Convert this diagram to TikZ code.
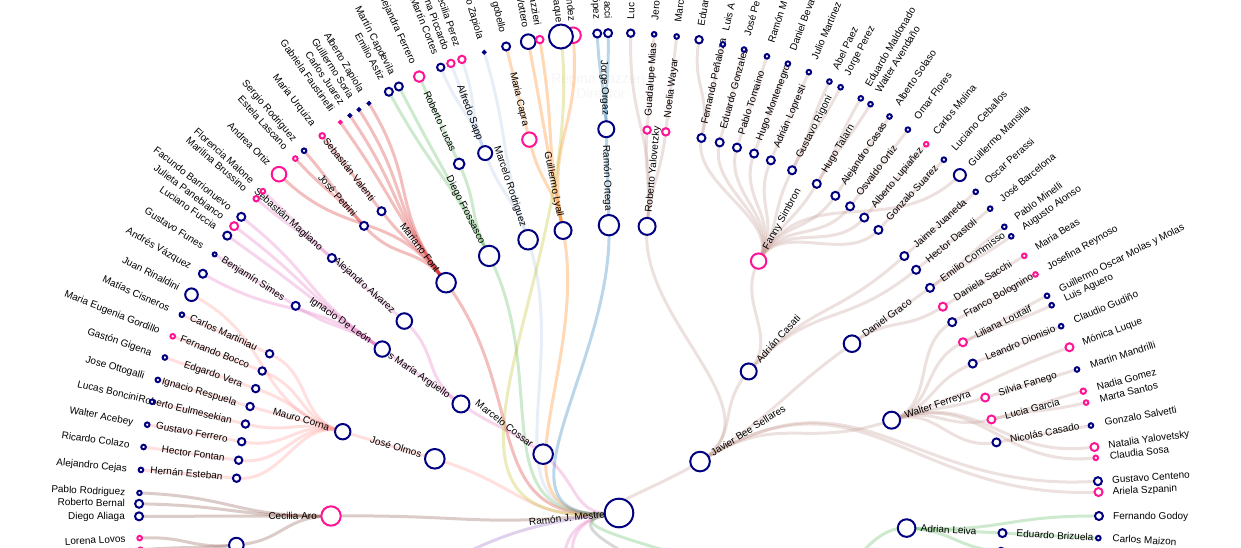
\documentclass[tikz,border=0pt]{standalone}
\usepackage{fontspec}
\setmainfont{Liberation Sans}
\usepackage{tikz}

\definecolor{navyring}{HTML}{000080}
\definecolor{pinkring}{HTML}{FF1493}
\definecolor{cRed}{HTML}{D62728}
\definecolor{cGreen}{HTML}{5CB85C}
\definecolor{cSky}{HTML}{AEC7E8}
\definecolor{cOrange}{HTML}{FF7F0E}
\definecolor{cBlue}{HTML}{1F77B4}
\definecolor{cOlive}{HTML}{BCBD22}
\definecolor{cPink}{HTML}{E377C2}
\definecolor{cSalmon}{HTML}{FF9896}
\definecolor{cBrown}{HTML}{8C564B}
\definecolor{cTaupe}{HTML}{C49C94}
\definecolor{cPurple}{HTML}{9467BD}
\definecolor{cGray}{HTML}{7F7F7F}

\tikzset{
    ringnode/.style={circle, fill=white, line width=2pt, inner sep=0pt},
    nv/.style={draw=navyring},
    pk/.style={draw=pinkring},
    sz/.style={minimum size=#1*2pt},
    link/.style={draw=#1, draw opacity=0.3, line width=3pt},
    who/.style={font=\fontsize{10}{12}\selectfont, inner sep=0pt, text height=8.2pt, text depth=2pt},
    card/.style={text=black!4, font=\fontsize{14}{16}\selectfont}
}

\pgfdeclarelayer{links}
\pgfdeclarelayer{dots}
\pgfsetlayers{links,main,dots}

\newcommand{\Link}[3]{%
    \pgfmathsetmacro\midrad{(\csname rad@#1\endcsname+\csname rad@#2\endcsname)/2}%
    \edef\fromang{\csname ang@#1\endcsname}%
    \edef\toang{\csname ang@#2\endcsname}%
    \begin{pgfonlayer}{links}
        \draw[link=#3] (#1.center) .. controls (\fromang:\midrad) and (\toang:\midrad) .. (#2.center);
    \end{pgfonlayer}}

\newcommand{\Root}[4]{%
    \expandafter\xdef\csname ang@#1\endcsname{#2}%
    \expandafter\xdef\csname rad@#1\endcsname{0}%
    \begin{pgfonlayer}{dots}
        \node[ringnode, #3] (#1) at (0,0) {};
    \end{pgfonlayer}
    \pgfmathsetmacro\labrot{#2-180}%
    \node[who, anchor=east, rotate=\labrot] (#1-lab) at (#2:14) {#4};}

\newcommand{\Person}[7]{%
    \expandafter\xdef\csname ang@#1\endcsname{#3}%
    \expandafter\xdef\csname rad@#1\endcsname{#4}%
    \begin{pgfonlayer}{dots}
        \node[ringnode, #5] (#1) at (#3:#4) {};
    \end{pgfonlayer}
    \Link{#2}{#1}{#6}%
    \pgfmathtruncatemacro\onleft{cos(#3)<0}%
    \pgfmathsetmacro\labrad{#4+14}%
    \ifnum\onleft=1
        \pgfmathsetmacro\labrot{#3-180}%
        \node[who, anchor=east, rotate=\labrot] (#1-lab) at (#3:\labrad) {#7};
    \else
        \node[who, anchor=west, rotate=#3] (#1-lab) at (#3:\labrad) {#7};
    \fi}

\newcommand{\Hidden}[5]{%
    \expandafter\xdef\csname ang@#1\endcsname{#3}%
    \expandafter\xdef\csname rad@#1\endcsname{#4}%
    \coordinate (#1) at (#3:#4);
    \Link{#2}{#1}{#5}}

\begin{document}
\begin{tikzpicture}[x=1pt, y=1pt]

    \useasboundingbox (-619,-35) rectangle (622,513);
    \clip (-619,-35) rectangle (622,513);

    \begin{pgfonlayer}{links}
        \node[card] (cardname) at (-21,433) {Regina Lazzeri};
        \node[card] (cardrole) at (-18,419) {Director};
    \end{pgfonlayer}

    \Root{root}{186}{nv, sz=14.3}{Ramón J. Mestre}

    \Person{olmos}{root}{163.6}{192}{nv, sz=9.8}{cSalmon}{José Olmos}
    \Person{corna}{olmos}{163.6}{288}{nv, sz=7.7}{cSalmon}{Mauro Corna}
    \Person{martiniau}{corna}{155.5}{384}{nv, sz=3.7}{cSalmon}{Carlos Martiniau}
    \Person{bocco}{corna}{158.3}{384}{nv, sz=3.7}{cSalmon}{Fernando Bocco}
    \Person{vera}{corna}{161.1}{384}{nv, sz=3.7}{cSalmon}{Edgardo Vera}
    \Person{respuela}{corna}{163.9}{384}{nv, sz=3.7}{cSalmon}{Ignacio Respuela}
    \Person{eulmesekian}{corna}{166.6}{384}{nv, sz=3.7}{cSalmon}{Roberto Eulmesekian}
    \Person{gferrero}{corna}{169.3}{384}{nv, sz=3.7}{cSalmon}{Gustavo Ferrero}
    \Person{fontan}{corna}{172.1}{384}{nv, sz=3.7}{cSalmon}{Hector Fontan}
    \Person{esteban}{corna}{174.8}{384}{nv, sz=3.7}{cSalmon}{Hernán Esteban}
    \Person{rinaldini}{corna}{152.95}{480}{nv, sz=6.3}{cSalmon}{Juan Rinaldini}
    \Person{cisneros}{martiniau}{155.6}{480}{nv, sz=2.3}{cSalmon}{Matías Cisneros}
    \Person{gordillo}{bocco}{158.4}{480}{pk, sz=2.3}{cSalmon}{Maria Eugenia Gordillo}
    \Person{gigena}{vera}{161.1}{480}{nv, sz=2.3}{cSalmon}{Gastón Gigena}
    \Person{ottogalli}{respuela}{163.9}{480}{nv, sz=2.3}{cSalmon}{Jose Ottogalli}
    \Person{boncini}{eulmesekian}{166.6}{480}{nv, sz=2.3}{cSalmon}{Lucas Boncini}
    \Person{acebey}{gferrero}{169.4}{480}{nv, sz=2.3}{cSalmon}{Walter Acebey}
    \Person{colazo}{fontan}{172.1}{480}{nv, sz=2.3}{cSalmon}{Ricardo Colazo}
    \Person{cejas}{esteban}{174.85}{480}{nv, sz=2.3}{cSalmon}{Alejandro Cejas}

    \Person{aro}{root}{180.6}{288}{pk, sz=9.7}{cBrown}{Cecilia Aro}
    \Person{prodriguez}{aro}{177.6}{480}{nv, sz=2.2}{cBrown}{Pablo Rodriguez}
    \Person{bernal}{aro}{178.9}{480}{nv, sz=4}{cBrown}{Roberto Bernal}
    \Person{aliaga}{aro}{180.4}{480}{nv, sz=4}{cBrown}{Diego Aliaga}
    \Person{lowA}{aro}{184.8}{384}{nv, sz=7.3}{cBrown}{}
    \Person{lovos}{lowA}{183.0}{480}{pk, sz=2.3}{cBrown}{Lorena Lovos}
    \Person{lowB}{lowA}{184.4}{480}{pk, sz=2.3}{cBrown}{}

    \Person{cossar}{root}{142.2}{96}{nv, sz=9.8}{cPink}{Marcelo Cossar}
    \Person{arguello}{cossar}{145.4}{192}{nv, sz=8.5}{cPink}{Luis María Argüello}
    \Person{deleon}{arguello}{145.3}{288}{nv, sz=7.7}{cPink}{Ignacio De León}
    \Person{alvarez}{arguello}{138.2}{288}{nv, sz=7.8}{cPink}{Alejandro Alvarez}
    \Person{simes}{deleon}{147.35}{384}{nv, sz=4}{cPink}{Benjamín Simes}
    \Person{magliano}{alvarez}{138.4}{384}{nv, sz=4}{cPink}{Sebastián Magliano}
    \Person{funes}{simes}{147.4}{480}{nv, sz=2}{cPink}{Gustavo Funes}
    \Person{vazquez}{deleon}{150.1}{480}{nv, sz=4}{cPink}{Andrés Vázquez}
    \Person{fuccia}{deleon}{144.7}{480}{nv, sz=4}{cPink}{Luciano Fuccia}
    \Person{panebianco}{deleon}{143.3}{480}{pk, sz=4}{cPink}{Julieta Panebianco}
    \Person{barrionuevo}{deleon}{141.9}{480}{nv, sz=4}{cPink}{Facundo Barrionuevo}
    \Person{brussino}{magliano}{139.1}{480}{pk, sz=2.7}{cPink}{Marilina Brussino}
    \Person{malone}{magliano}{137.9}{480}{pk, sz=2.3}{cPink}{Florencia Malone}

    \Person{font}{root}{126.9}{288}{nv, sz=9.8}{cRed}{Mariano Font}
    \Person{petrini}{font}{131.6}{384}{nv, sz=4}{cRed}{José Petrini}
    \Person{valenti}{font}{128.2}{384}{nv, sz=4}{cRed}{Sebastián Valenti}
    \Person{ortiz}{font}{135.1}{480}{pk, sz=7.3}{cRed}{Andrea Ortiz}
    \Person{lascano}{petrini}{132.4}{480}{pk, sz=2.3}{cRed}{Estela Lascano}
    \Person{srodriguez}{petrini}{131.0}{480}{nv, sz=2.3}{cRed}{Sergio Rodriguez}
    \Person{urquiza}{valenti}{128.2}{480}{pk, sz=2.7}{cRed}{Maria Urquiza}
    \Person{faustinelli}{font}{125.5}{480}{pk, sz=1.3}{cRed}{Gabriela Faustinelli}
    \Person{juarez}{font}{124.1}{480}{nv, sz=1.3}{cRed}{Carlos Juarez}
    \Person{soria}{font}{122.8}{480}{nv, sz=1.3}{cRed}{Guillermo Soria}
    \Person{azapiola}{font}{121.4}{480}{nv, sz=1.3}{cRed}{Alberto Zapiola}

    \Person{frossasco}{root}{116.8}{288}{nv, sz=10.2}{cGreen}{Diego Frossasco}
    \Person{astiz}{frossasco}{118.65}{480}{nv, sz=4}{cGreen}{Emilio Astiz}
    \Person{capdevila}{frossasco}{117.3}{480}{nv, sz=4}{cGreen}{Martín Capdevila}
    \Person{lucas}{frossasco}{114.6}{384}{nv, sz=5.3}{cGreen}{Roberto Lucas}
    \Person{aferrero}{lucas}{114.6}{480}{pk, sz=5.3}{cGreen}{Alejandra Ferrero}

    \Person{mrodriguez}{root}{108.4}{288}{nv, sz=9.8}{cSky}{Marcelo Rodriguez}
    \Person{sapp}{mrodriguez}{110.4}{384}{nv, sz=7}{cSky}{Alfredo Sapp}
    \Person{cortes}{sapp}{111.8}{480}{nv, sz=3.7}{cSky}{Martín Cortes}
    \Person{piccardo}{sapp}{110.5}{480}{pk, sz=3.7}{cSky}{na Piccardo}
    \Person{cperez}{sapp}{109.1}{480}{pk, sz=3.7}{cSky}{Cecilia Perez}
    \Person{ozapiola}{mrodriguez}{106.3}{480}{nv, sz=1.2}{cSky}{o Zapiola}

    \Person{lyall}{root}{101.2}{288}{nv, sz=8.5}{cOrange}{Guillermo Lyall}
    \Person{capra}{lyall}{103.5}{384}{pk, sz=7.2}{cOrange}{Maria Capra}
    \Person{gobello}{capra}{103.6}{480}{nv, sz=4}{cOrange}{gobello}
    \Person{vottero}{lyall}{100.9}{480}{nv, sz=7.3}{cOrange}{Vottero}
    \Person{azzieri}{lyall}{99.5}{480}{pk, sz=3.7}{cOrange}{azzieri}
    \Person{ndez}{lyall}{95.5}{480}{pk, sz=7.8}{cOrange}{ndez}

    \Person{aque}{root}{96.95}{480}{nv, sz=12}{cOlive}{aque}

    \Person{ortega}{root}{92.0}{288}{nv, sz=10.2}{cBlue}{Ramón Ortega}
    \Person{orgaz}{ortega}{91.9}{384}{nv, sz=8}{cBlue}{Jorge Orgaz}
    \Person{lopez}{orgaz}{92.6}{480}{nv, sz=4}{cBlue}{López}
    \Person{acci}{orgaz}{91.3}{480}{nv, sz=4}{cBlue}{acci}

    \Person{sellares}{root}{32.4}{96}{nv, sz=9.8}{cTaupe}{Javier Bee Sellares}
    \Person{casati}{sellares}{47.5}{192}{nv, sz=8}{cTaupe}{Adrián Casati}
    \Person{yalovetzky}{sellares}{84.4}{288}{nv, sz=8.5}{cTaupe}{Roberto Yalovetzky}
    \Person{graco}{sellares}{36.0}{288}{nv, sz=8.3}{cTaupe}{Daniel Graco}
    \Person{ferreyra}{sellares}{18.8}{288}{nv, sz=8.5}{cTaupe}{Walter Ferreyra}
    \Person{centeno}{sellares}{3.8}{480}{nv, sz=4}{cTaupe}{Gustavo Centeno}
    \Person{szpanin}{sellares}{2.5}{480}{pk, sz=4}{cTaupe}{Ariela Szpanin}
    \Person{simbron}{casati}{61.0}{288}{pk, sz=7.7}{cTaupe}{Fanny Simbron}
    \Person{juaneda}{casati}{42.0}{384}{nv, sz=4}{cTaupe}{Jaime Juaneda}
    \Person{dastoli}{casati}{39.3}{384}{nv, sz=4}{cTaupe}{Hector Dastoli}
    \Person{mias}{yalovetzky}{85.8}{384}{pk, sz=3.7}{cTaupe}{Guadalupe Mias}
    \Person{wayar}{yalovetzky}{83.0}{384}{pk, sz=3.7}{cTaupe}{Noelia Wayar}
    \Person{luc}{yalovetzky}{88.6}{480}{nv, sz=3.7}{cTaupe}{Luc}
    \Person{jero}{mias}{85.8}{480}{nv, sz=2.3}{cTaupe}{Jero}
    \Person{marc}{wayar}{83.1}{480}{nv, sz=2.3}{cTaupe}{Marc}

    \Person{penaloza}{simbron}{77.6}{384}{nv, sz=4}{cTaupe}{Fernando Peñaloza}
    \Person{egonzalez}{simbron}{74.8}{384}{nv, sz=4}{cTaupe}{Eduardo Gonzalez}
    \Person{tomaino}{simbron}{72.1}{384}{nv, sz=4}{cTaupe}{Pablo Tomaino}
    \Person{montenegro}{simbron}{69.4}{384}{nv, sz=4}{cTaupe}{Hugo Montenegro}
    \Person{lopresti}{simbron}{66.7}{384}{nv, sz=4}{cTaupe}{Adrián Lopresti}
    \Person{rigoni}{simbron}{63.2}{384}{nv, sz=4}{cTaupe}{Gustavo Rigoni}
    \Person{talarn}{simbron}{59.0}{384}{nv, sz=4}{cTaupe}{Hugo Talarn}
    \Person{casas}{simbron}{55.7}{384}{nv, sz=4}{cTaupe}{Alejandro Casas}
    \Person{oortiz}{simbron}{53.0}{384}{nv, sz=4}{cTaupe}{Osvaldo Ortiz}
    \Person{lupianez}{simbron}{50.3}{384}{nv, sz=4}{cTaupe}{Alberto Lupiañez}
    \Person{suarez}{simbron}{47.5}{384}{nv, sz=4}{cTaupe}{Gonzalo Suarez}
    \Person{mansilla}{simbron}{44.75}{480}{nv, sz=6}{cTaupe}{Guillermo Mansilla}
    \Person{eduar}{penaloza}{80.4}{480}{nv, sz=3.7}{cTaupe}{Eduar}
    \Person{luisa}{penaloza}{77.5}{480}{nv, sz=2.3}{cTaupe}{Luis A}
    \Person{josepe}{egonzalez}{74.9}{480}{nv, sz=2.3}{cTaupe}{José Pe}
    \Person{ramonm}{tomaino}{72.05}{480}{nv, sz=2.3}{cTaupe}{Ramón M}
    \Person{beva}{montenegro}{69.4}{480}{nv, sz=2.3}{cTaupe}{Daniel Beva}
    \Person{jmartinez}{lopresti}{66.7}{480}{nv, sz=2.3}{cTaupe}{Julio Martinez}
    \Person{paez}{rigoni}{64.0}{480}{nv, sz=2.3}{cTaupe}{Abel Paez}
    \Person{jperez}{rigoni}{62.5}{480}{nv, sz=2.3}{cTaupe}{Jorge Perez}
    \Person{maldonado}{talarn}{59.75}{480}{nv, sz=2.3}{cTaupe}{Eduardo Maldonado}
    \Person{avendano}{talarn}{58.4}{480}{nv, sz=2.3}{cTaupe}{Walter Avendaño}
    \Person{solaso}{casas}{55.7}{480}{nv, sz=2.3}{cTaupe}{Alberto Solaso}
    \Person{flores}{oortiz}{53.0}{480}{nv, sz=2.3}{cTaupe}{Omar Flores}
    \Person{molina}{lupianez}{50.2}{480}{pk, sz=2.3}{cTaupe}{Carlos Molina}
    \Person{ceballos}{suarez}{47.4}{480}{nv, sz=2.3}{cTaupe}{Luciano Ceballos}
    \Person{perassi}{juaneda}{42.0}{480}{nv, sz=2.3}{cTaupe}{Oscar Perassi}
    \Person{barcelona}{dastoli}{39.35}{480}{nv, sz=2.3}{cTaupe}{José Barcelona}

    \Person{commisso}{graco}{35.9}{384}{nv, sz=4}{cTaupe}{Emilio Commisso}
    \Person{minelli}{commisso}{36.6}{480}{nv, sz=2.3}{cTaupe}{Pablo Minelli}
    \Person{alonso}{commisso}{35.2}{480}{nv, sz=2.3}{cTaupe}{Augusto Alonso}
    \Person{sacchi}{graco}{32.5}{384}{pk, sz=4}{cTaupe}{Daniela Sacchi}
    \Person{beas}{sacchi}{32.4}{480}{pk, sz=2.3}{cTaupe}{Maria Beas}
    \Person{bolognino}{ferreyra}{29.8}{384}{nv, sz=4}{cTaupe}{Franco Bolognino}
    \Person{reynoso}{bolognino}{29.8}{480}{pk, sz=2.3}{cTaupe}{Josefina Reynoso}
    \Person{loutaif}{ferreyra}{26.4}{384}{pk, sz=4}{cTaupe}{Liliana Loutaif}
    \Person{molas}{loutaif}{26.9}{480}{nv, sz=2.3}{cTaupe}{Guillermo Oscar Molas y Molas}
    \Person{aguero}{loutaif}{25.65}{480}{nv, sz=2.3}{cTaupe}{Luis Aguero}
    \Person{dionisio}{ferreyra}{22.9}{384}{nv, sz=4}{cTaupe}{Leandro Dionisio}
    \Person{gudino}{dionisio}{22.9}{480}{nv, sz=2.3}{cTaupe}{Claudio Gudiño}
    \Person{luque}{ferreyra}{20.2}{480}{pk, sz=4}{cTaupe}{Mónica Luque}
    \Person{fanego}{ferreyra}{17.5}{384}{pk, sz=4}{cTaupe}{Silvia Fanego}
    \Person{mandrilli}{fanego}{17.4}{480}{nv, sz=2.3}{cTaupe}{Martin Mandrilli}
    \Person{garcia}{ferreyra}{14.1}{384}{pk, sz=4}{cTaupe}{Lucia Garcia}
    \Person{gomez}{garcia}{14.7}{480}{pk, sz=2.7}{cTaupe}{Nadia Gomez}
    \Person{santos}{garcia}{13.3}{480}{pk, sz=2.3}{cTaupe}{Marta Santos}
    \Person{casado}{ferreyra}{10.6}{384}{nv, sz=4}{cTaupe}{Nicolás Casado}
    \Person{salvetti}{casado}{10.5}{480}{nv, sz=2.3}{cTaupe}{Gonzalo Salvetti}
    \Person{yalovetsky}{ferreyra}{7.9}{480}{pk, sz=4}{cTaupe}{Natalia Yalovetsky}
    \Person{sosa}{ferreyra}{6.6}{480}{pk, sz=2.3}{cTaupe}{Claudia Sosa}

    \Hidden{lowP}{root}{198}{288}{cPurple}
    \Hidden{lowR}{root}{250}{192}{cPink}
    \Hidden{lowS}{root}{262}{192}{cPink}
    \Hidden{lowK}{root}{320}{192}{cGray}
    \Hidden{lowG}{root}{335}{192}{cGreen}
    \Person{leiva}{lowG}{-3}{288}{nv, sz=8.8}{cGreen}{Adrian Leiva}
    \Person{godoy}{leiva}{-0.36}{480}{nv, sz=4}{cGreen}{Fernando Godoy}
    \Person{brizuela}{leiva}{-3}{384}{nv, sz=4}{cGreen}{Eduardo Brizuela}
    \Person{maizon}{brizuela}{-3}{480}{nv, sz=2.3}{cGreen}{Carlos Maizon}
    \Person{lowC}{leiva}{-5.8}{384}{nv, sz=4}{cGreen}{}

\end{tikzpicture}
\end{document}
